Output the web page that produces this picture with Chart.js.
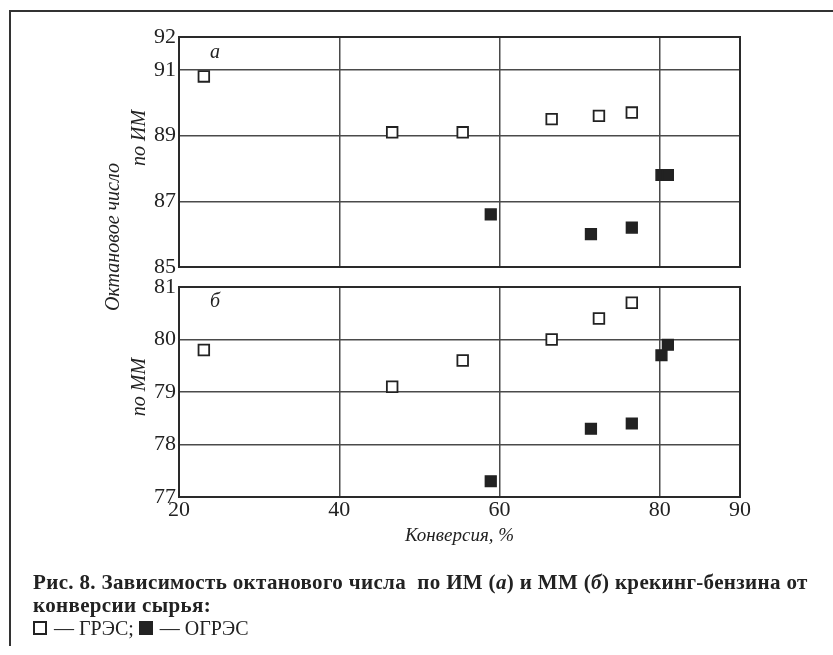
<!DOCTYPE html>
<html lang="ru">
<head>
<meta charset="utf-8">
<script src="https://cdn.jsdelivr.net/npm/chart.js@4.4.1/dist/chart.umd.min.js"></script>
<style>
  html, body { margin: 0; padding: 0; background: #fff; }
  body {
    width: 833px; height: 655px; position: relative; overflow: hidden;
    font-family: "Liberation Serif", "DejaVu Serif", serif; color: #222;
  }
  .frame {
    position: absolute; left: 9px; top: 10px; width: 840px; height: 634px;
    border-left: 2px solid #333; border-top: 2px solid #333;
  }
  canvas { position: absolute; left: 0; top: 0; }
  .lab {
    position: absolute; font-style: italic; font-size: 20px; white-space: nowrap;
    transform: translate(-50%, -50%);
  }
  .lab.rot { transform: translate(-50%, -50%) rotate(-90deg); }
  .caption {
    position: absolute; left: 33px; top: 571px; width: 800px;
    font-size: 21px; line-height: 23px; white-space: nowrap;
  }
  .caption b { font-weight: bold; letter-spacing: 0.35px; }
  .caption .legend { font-size: 20px; }
  .sq {
    display: inline-block; width: 10px; height: 10px; border: 2px solid #222;
    vertical-align: 0px; margin-right: 2px;
  }
  .sq.full { background: #222; }
</style>
</head>
<body>
<div class="frame"></div>
<canvas id="chart-im" width="833" height="655"></canvas>
<canvas id="chart-mm" width="833" height="655"></canvas>

<div class="lab rot" style="left:112px; top:237px;">Октановое число</div>
<div class="lab rot" style="left:138px; top:138px;">по ИМ</div>
<div class="lab rot" style="left:138px; top:387px;">по ММ</div>
<div class="lab" style="left:215px; top:51px;">а</div>
<div class="lab" style="left:215px; top:300px;">б</div>

<div class="caption">
  <b>Рис. 8. Зависимость октанового числа&nbsp; по ИМ (<i>а</i>) и ММ (<i>б</i>) крекинг-бензина от</b><br>
  <b>конверсии сырья:</b><br>
  <span class="legend"><span class="sq"></span> — ГРЭС; <span class="sq full"></span> — ОГРЭС</span>
</div>

<script>
// conversion, % (x) for both catalysts
const convGres = [23.1, 46.6, 55.4, 66.5, 72.4, 76.5];
const convOgres = [58.9, 71.4, 76.5, 80.2, 81.0];

// octane number, research method (ИМ)
const imGres = [90.8, 89.1, 89.1, 89.5, 89.6, 89.7];
const imOgres = [86.6, 86.0, 86.2, 87.8, 87.8];

// octane number, motor method (ММ)
const mmGres = [79.8, 79.1, 79.6, 80.0, 80.4, 80.7];
const mmOgres = [77.3, 78.3, 78.4, 79.7, 79.9];

const xTicks = [20, 40, 60, 80, 90];
const imTicks = [85, 87, 89, 91, 92];
const mmTicks = [77, 78, 79, 80, 81];

const ink = '#222';
const gridColor = '#4a4a4a';
const tickFont = { family: '"Liberation Serif", serif', size: 22 };

// heavier outline around each plot area
const frameBox = {
    id: 'frameBox',
    afterDraw(chart) {
        const { ctx, chartArea: a } = chart;
        ctx.save();
        ctx.strokeStyle = '#2a2a2a';
        ctx.lineWidth = 2;
        ctx.strokeRect(a.left, a.top, a.right - a.left, a.bottom - a.top);
        ctx.restore();
    }
};

function toPoints(xs, ys) {
    return xs.map((x, i) => ({ x: x, y: ys[i] }));
}

function makePanel(canvasId, yTicks, gresY, ogresY, padding, showX) {
    const ctx = document.getElementById(canvasId).getContext('2d');
    return new Chart(ctx, {
        type: 'scatter',
        data: {
            datasets: [{
                label: 'ГРЭС',
                data: toPoints(convGres, gresY),
                pointStyle: 'rect',
                pointRadius: 7.5,
                backgroundColor: '#fff',
                borderColor: ink,
                borderWidth: 1.8
            }, {
                label: 'ОГРЭС',
                data: toPoints(convOgres, ogresY),
                pointStyle: 'rect',
                pointRadius: 7.6,
                backgroundColor: ink,
                borderColor: ink,
                borderWidth: 1.5
            }]
        },
        options: {
            responsive: false,
            animation: false,
            events: [],
            layout: { padding: padding },
            plugins: {
                legend: { display: false },
                tooltip: { enabled: false }
            },
            scales: {
                x: {
                    type: 'linear',
                    min: 20,
                    max: 90,
                    afterBuildTicks: scale => { scale.ticks = xTicks.map(v => ({ value: v })); },
                    afterFit: scale => { scale.height = showX ? 50 : 0; },
                    border: { display: false },
                    grid: { color: gridColor, lineWidth: 1.5, drawTicks: false },
                    ticks: {
                        display: showX,
                        color: ink,
                        font: tickFont,
                        padding: 0,
                        maxRotation: 0
                    },
                    title: {
                        display: showX,
                        text: 'Конверсия, %',
                        color: ink,
                        font: { family: '"Liberation Serif", serif', size: 19, style: 'italic' },
                        padding: 0
                    }
                },
                y: {
                    type: 'linear',
                    min: yTicks[0],
                    max: yTicks[yTicks.length - 1],
                    afterBuildTicks: scale => { scale.ticks = yTicks.map(v => ({ value: v })); },
                    afterFit: scale => { scale.width = 40; },
                    border: { display: false },
                    grid: { color: gridColor, lineWidth: 1.5, drawTicks: false },
                    ticks: {
                        color: ink,
                        font: tickFont,
                        padding: 3
                    }
                }
            }
        },
        plugins: [frameBox]
    });
}

// top panel: ИМ, plot area 179..740 x 37..267
makePanel('chart-im', imTicks, imGres, imOgres,
    { left: 139, right: 93, top: 37, bottom: 388 }, false);

// bottom panel: ММ, plot area 179..740 x 287..497
makePanel('chart-mm', mmTicks, mmGres, mmOgres,
    { left: 139, right: 93, top: 287, bottom: 108 }, true);
</script>
</body>
</html>
